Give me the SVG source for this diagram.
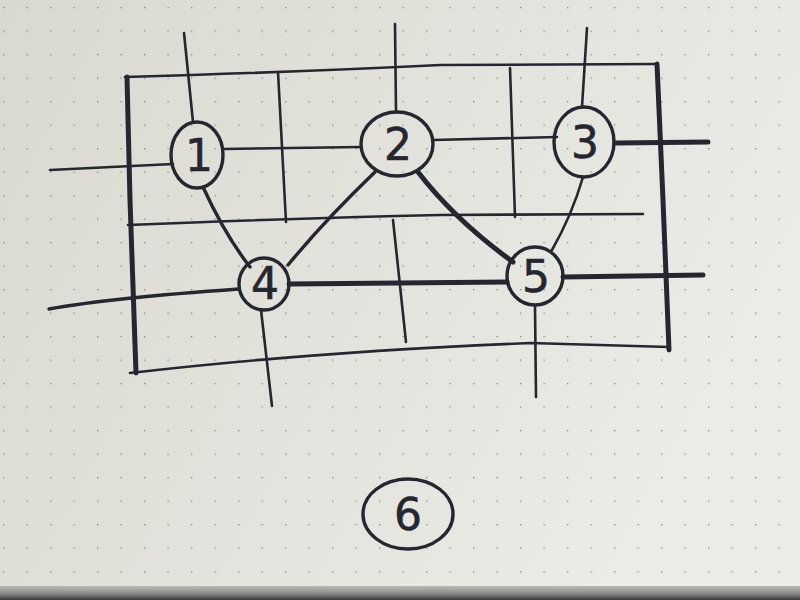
<svg xmlns="http://www.w3.org/2000/svg" width="800" height="600" viewBox="0 0 800 600">
<defs>
<linearGradient id="paper" x1="0" y1="0" x2="1" y2="0.4">
<stop offset="0" stop-color="#d9d9d1"/>
<stop offset="0.6" stop-color="#e4e4de"/>
<stop offset="1" stop-color="#ebebe7"/>
</linearGradient>
<pattern id="dots" x="3" y="7" width="23.5" height="23.5" patternUnits="userSpaceOnUse">
<rect x="-1.1" y="-1.1" width="2.4" height="2.4" fill="#85857f"/>
</pattern>
<linearGradient id="edge" x1="0" y1="0" x2="0" y2="1">
<stop offset="0" stop-color="#b9b9b6"/>
<stop offset="0.5" stop-color="#8e8e8c"/>
<stop offset="1" stop-color="#3b3937"/>
</linearGradient>
</defs>
<style>
.ink{fill:none;stroke:#262631;stroke-linecap:round;stroke-linejoin:round}
.thin{stroke-width:2.6}
.med{stroke-width:3.4}
.thick{stroke-width:5}
.node{fill:none;stroke:#262631;stroke-width:3.4}
.lbl{font-family:"DejaVu Sans","Liberation Sans",sans-serif;font-size:44px;fill:#262631;stroke:#262631;stroke-width:0.6;text-anchor:middle}
</style>
<rect width="800" height="600" fill="url(#paper)"/>
<rect width="800" height="588" fill="url(#dots)"/>
<rect y="586" width="800" height="14" fill="url(#edge)"/>

<g id="grid">
<path class="ink thin" d="M125,77 Q300,72 440,65 L657,64"/>
<path class="ink thick" d="M127,77 L130,200 L136,373"/>
<path class="ink thick" d="M657,64 L663,200 L669,350"/>
<path class="ink thin" d="M130,373 Q310,352 530,343 L669,347"/>
<path class="ink thin" d="M128,225 Q300,218 440,215 L643,214"/>
<path class="ink thin" d="M278,72 L286,222"/>
<path class="ink thin" d="M510,68 L515,217"/>
<path class="ink thin" d="M393,220 L406,342"/>
</g>

<g id="connectors">
<path class="ink thin" d="M184,33 L193,122"/>
<path class="ink thin" d="M50,170 L173,164"/>
<path class="ink thin" d="M223,149 L361,147"/>
<path class="ink med" d="M203,187 Q225,235 250,267"/>
<path class="ink thin" d="M395,24 L396,112"/>
<path class="ink med" d="M375,172 Q325,220 288,265"/>
<path class="ink thin" d="M433,140 L557,137"/>
<path class="ink thick" d="M418,172 Q455,220 513,262"/>
<path class="ink thin" d="M587,28 L582,107"/>
<path class="ink thick" d="M615,143 L708,142"/>
<path class="ink thin" d="M583,177 Q572,215 552,250"/>
<path class="ink thick" d="M563,277 L703,275"/>
<path class="ink thick" d="M289,284 L507,282"/>
<path class="ink med" d="M49,309 Q110,298 239,289"/>
<path class="ink thin" d="M261,310 L272,406"/>
<path class="ink thin" d="M535,306 L536,397"/>
</g>

<g id="node1"><ellipse class="node" cx="197" cy="155" rx="26" ry="33"/><text class="lbl" x="199" y="171">1</text></g>
<g id="node2"><ellipse class="node" cx="397" cy="144" rx="36" ry="32"/><text class="lbl" x="398" y="160">2</text></g>
<g id="node3"><ellipse class="node" cx="584" cy="142" rx="30" ry="35"/><text class="lbl" x="585" y="158">3</text></g>
<g id="node4"><ellipse class="node" cx="264" cy="284" rx="25" ry="26"/><text class="lbl" x="265" y="299">4</text></g>
<g id="node5"><ellipse class="node" cx="535" cy="276" rx="28" ry="29"/><text class="lbl" x="536" y="292">5</text></g>
<g id="node6"><ellipse class="node" cx="408" cy="514" rx="45" ry="35"/><text class="lbl" x="408" y="530">6</text></g>
</svg>
